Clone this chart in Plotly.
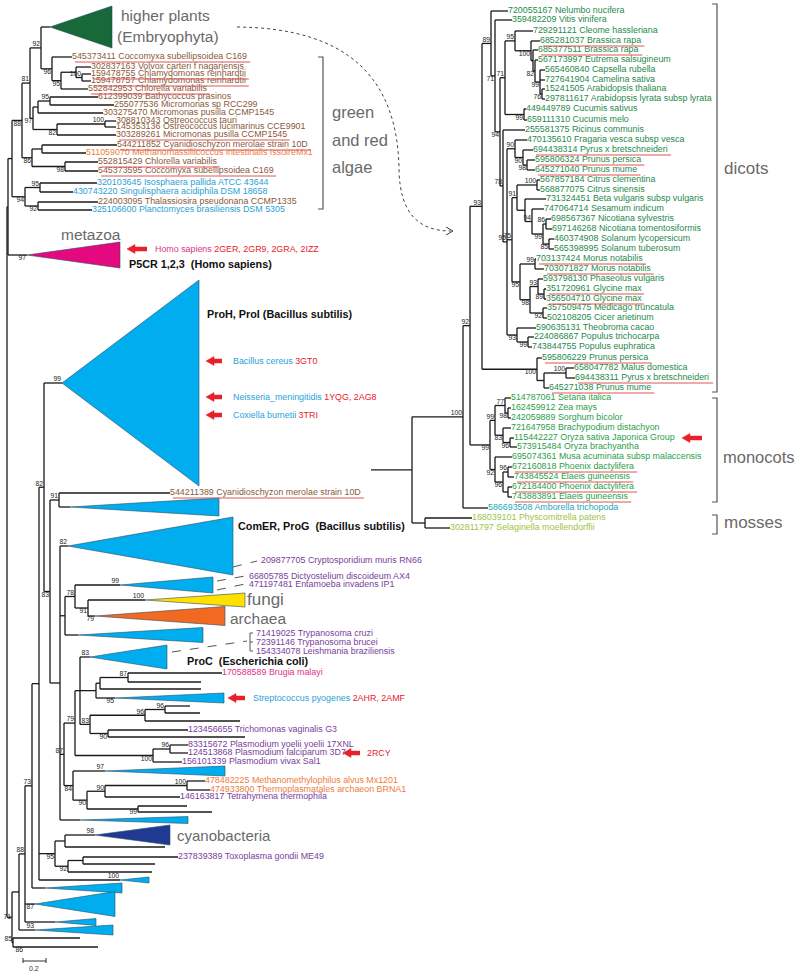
import plotly.graph_objects as go

# ---------------- colours ----------------
BROWN = "#8a5a3a"; PURPLE = "#7a3e9d"; ORANGE = "#ee7b3b"; BLUE = "#2a9fd6"
PINK = "#e0338a"; RED = "#e8202a"
DG = "#1f8a4c"; MG = "#2ba04a"; TEAL = "#25a8b8"; LG = "#9cc545"
C_CYAN = "#00aeef"; C_PLANT = "#17693a"; C_META = "#e5097f"
C_FUNGI = "#ffe100"; C_ARCH = "#f26a21"; C_CYANO = "#203a94"
LINE = "#1a1a1a"; GRAY = "#6a6a6a"
FONT = "Liberation Sans, Arial, sans-serif"


# ---------------- tree data ----------------
def N(x, ch, lab=None, pos="a"):
    return dict(k="n", x=x, ch=ch, lab=lab, pos=pos)


def L(y, xe, name="", col=None, ul=False, lab=None, pos="a"):
    return dict(k="l", y=y, xe=xe, name=name, col=col, ul=ul, lab=lab, pos=pos)


def T(y, xa, xr, hh, col, lab=None, pos="a"):
    return dict(k="t", y=y, xa=xa, xr=xr, hh=hh, col=col, lab=lab, pos=pos)


LEFT_TREE = N(7, [
    N(8, [
        N(12, [
            N(22, [
                N(30, [
                    N(41, [
                        T(27, 50, 112, 21, C_PLANT),
                        N(52, [
                            L(57, 72, "545373411 Coccomyxa subellipsoidea C169", BROWN, True),
                            N(61, [
                                N(76, [
                                    L(67, 91, "302837163 Volvox carteri f nagariensis", BROWN),
                                    N(82, [L(74, 91, "159478755 Chlamydomonas reinhardtii", BROWN, True),
                                           L(81, 91, "159478757 Chlamydomonas reinhardtii", BROWN, True)], "100", "a"),
                                ]),
                                L(89, 88, "552842953 Chlorella variabilis", BROWN, True),
                            ], "95", "b"),
                        ], "96", "b"),
                    ], "92", "a"),
                    N(33, [
                        N(38, [
                            N(50, [L(97, 98, "612399039 Bathycoccus prasinos", BROWN),
                                   L(105, 114, "255077536 Micromonas sp RCC299", BROWN)], "95", "a"),
                            L(113, 103, "303275470 Micromonas pusilla CCMP1545", BROWN),
                        ]),
                        N(57, [
                            N(105, [L(121, 116, "308810343 Ostreococcus tauri", BROWN),
                                    L(127, 116, "145353136 Ostreococcus lucimarinus CCE9901", BROWN)], "100", "a"),
                            L(135, 116, "303289261 Micromonas pusilla CCMP1545", BROWN, True),
                        ], "82", "b"),
                    ], "97", "b"),
                ], "81", "a"),
                N(32, [
                    N(42, [L(145, 117, "544211852 Cyanidioschyzon merolae strain 10D", BROWN, True),
                           L(153, 86, "511059070 Methanomassiliicoccus intestinalis IssoireMx1", ORANGE)]),
                    N(65, [L(162, 98, "552815429 Chlorella variabilis", BROWN, True),
                           L(171, 98, "545373595 Coccomyxa subellipsoidea C169", BROWN, True)], "98", "b"),
                ], "86", "b"),
            ], "88", "b"),
            N(25, [
                N(40, [L(183, 97, "320103645 Isosphaera pallida ATCC 43644", BLUE),
                       L(192, 73, "430743220 Singulisphaera acidiphila DSM 18658", BLUE)], "95", "a"),
                N(38, [L(202, 98, "224003095 Thalassiosira pseudonana CCMP1335", BROWN),
                       L(210, 92, "325106600 Planctomyces brasiliensis DSM 5305", BLUE)], "92", "b"),
            ], "94", "b"),
        ]),
        T(255, 27, 120, 13, C_META, "97", "b"),
    ]),
    N(12, [
        N(19, [
            N(25, [
                N(32, [
                    N(39, [
                        N(44, [
                            T(383, 62, 199, 103, C_CYAN, "99", "a"),
                            N(50, [
                                N(59, [L(493, 170, "544211389 Cyanidioschyzon merolae strain 10D", BROWN, True),
                                       T(507, 70, 219, 9, C_CYAN)], "91", "a"),
                                N(60, [
                                    T(546, 68, 233, 29, C_CYAN, "82", "a"),
                                    N(65, [
                                        N(75, [
                                            T(585, 120, 213, 8, C_CYAN, "99", "a"),
                                            N(88, [T(600, 145, 245, 7, C_FUNGI, "100", "a"),
                                                   T(616, 95, 225, 9.5, C_ARCH, "79", "b")], "91", "b"),
                                        ], "78", "a"),
                                        T(635, 78, 203, 7.5, C_CYAN),
                                    ]),
                                    N(64, [
                                        N(75, [
                                            N(80, [
                                                T(657, 90, 167, 12, C_CYAN, "83", "a"),
                                                N(96, [
                                                    N(100, [
                                                        N(128, [L(673, 222, "170588589 Brugia malayi", PINK),
                                                                L(682, 201)], "87", "a"),
                                                        L(689, 201),
                                                    ]),
                                                    T(698, 115, 224, 5, C_CYAN, "95", "b"),
                                                ]),
                                                N(90, [
                                                    N(145, [N(165, [L(706, 190), L(713, 200)], "96", "a"),
                                                            L(721, 240)], "96", "a"),
                                                    N(108, [L(730, 188, "123456655 Trichomonas vaginalis G3", PURPLE),
                                                            L(737, 245)], "90", "b"),
                                                ], "83", "a"),
                                            ]),
                                            N(153, [
                                                N(170, [L(745, 188, "83315672 Plasmodium yoelii yoelii 17XNL", PURPLE),
                                                        L(753, 188, "124513868 Plasmodium falciparum 3D7", PURPLE)], "96", "a"),
                                                L(762, 182, "156101339 Plasmodium vivax Sal1", PURPLE),
                                            ], "100", "b"),
                                        ], "79", "a"),
                                        N(73, [
                                            T(771, 105, 225, 5, C_CYAN, "97", "a"),
                                            N(87, [
                                                N(105, [N(187, [L(781, 205, "478482225 Methanomethylophilus alvus Mx1201", ORANGE),
                                                                L(790, 210, "474933800 Thermoplasmatales archaeon BRNA1", ORANGE)], "100", "a"),
                                                        L(797, 180, "146163817 Tetrahymena thermophila", PURPLE)], "90", "a"),
                                                N(138, [L(806, 187), L(812, 212)], "99", "b"),
                                            ], "90", "b"),
                                        ], "84", "b"),
                                    ], "87", "a"),
                                    T(820, 80, 188, 3.5, C_CYAN),
                                ]),
                            ], "83", "b"),
                        ], "82", "a"),
                        N(55, [
                            N(65, [T(835, 95, 170, 10, C_CYANO, "98", "a"), L(847, 165)]),
                            N(68, [N(83, [L(857, 178, "237839389 Toxoplasma gondii ME49", PURPLE), L(864, 155)]),
                                   L(872, 152)], "92", "b"),
                        ], "95", "b"),
                        T(880, 120, 149, 3, C_CYAN, "100", "a"),
                    ]),
                    T(888, 45, 122, 5, C_CYAN),
                ], "73", "a"),
                T(904, 35, 115, 12.5, C_CYAN, "87", "b"),
                T(922, 55, 96, 3.5, C_CYAN),
            ], "88", "a"),
            T(930, 35, 113, 5, C_CYAN, "93", "a"),
        ]),
        N(13, [L(938, 80), L(947, 98, lab="86", pos="b")], "85", "a"),
    ], "71", "l"),
])

RIGHT_TREE = N(412, [
    N(463, [
        N(470, [
            N(482, [
                N(491, [
                    L(11, 508, "720055167 Nelumbo nucifera", DG),
                    N(495, [
                        L(20, 512, "359482209 Vitis vinifera", DG),
                        N(500, [
                            N(505, [
                                N(515, [
                                    L(31, 533, "729291121 Cleome hassleriana", DG),
                                    N(531, [
                                        L(41, 540, "685281037 Brassica rapa", DG, True),
                                        N(533, [
                                            L(50, 538, "685377511 Brassica rapa", DG, True),
                                            N(535, [
                                                L(60, 538, "567173997 Eutrema salsugineum", DG),
                                                N(540, [L(70, 545, "565460840 Capsella rubella", DG),
                                                        L(80, 545, "727641904 Camelina sativa", DG),
                                                        N(542, [L(89, 545, "15241505 Arabidopsis thaliana", DG),
                                                                L(99, 545, "297811617 Arabidopsis lyrata subsp lyrata", DG)], "76", "b")],
                                                  "99", "b"),
                                            ], "82", "b"),
                                        ]),
                                    ], "100", "b"),
                                ], "95", "a"),
                                N(524, [L(109, 526, "449449789 Cucumis sativus", DG),
                                        L(120, 527, "659111310 Cucumis melo", DG)], "99", "b"),
                            ], "71", "a"),
                            N(503, [
                                L(130, 525, "255581375 Ricinus communis", DG),
                                N(507, [
                                    N(515, [L(140, 527, "470135610 Fragaria vesca subsp vesca", DG),
                                            N(523, [L(150, 533, "694438314 Pyrus x bretschneideri", DG, True),
                                                    N(527, [L(160, 535, "595806324 Prunus persica", DG, True),
                                                            L(170, 535, "645271040 Prunus mume", DG, True)], "98", "b")],
                                              "90", "b")], "90", "a"),
                                    N(512, [
                                        N(517, [
                                            N(537, [L(180, 540, "567857184 Citrus clementina", DG),
                                                    L(190, 540, "568877075 Citrus sinensis", DG)], "100", "a"),
                                            N(525, [L(199, 546, "731324451 Beta vulgaris subsp vulgaris", DG),
                                                    N(532, [L(209, 544, "747064714 Sesamum indicum", DG),
                                                            N(543, [N(546, [L(219, 551, "698567367 Nicotiana sylvestris", DG),
                                                                            L(229, 552, "697146268 Nicotiana tomentosiformis", DG)], "86", "a"),
                                                                    N(549, [L(239, 554, "460374908 Solanum lycopersicum", DG),
                                                                            L(249, 554, "565398995 Solanum tuberosum", DG)], "85", "b")],
                                                              "99", "b")], "94", "a")]),
                                        ], "91", "a"),
                                        N(520, [
                                            N(535, [L(259, 536, "703137424 Morus notabilis", DG, True),
                                                    L(269, 544, "703071827 Morus notabilis", DG, True)], "99", "a"),
                                            N(530, [N(538, [L(279, 543, "593798130 Phaseolus vulgaris", DG),
                                                            N(544, [L(289, 546, "351720961 Glycine max", DG, True),
                                                                    L(299, 546, "356504710 Glycine max", DG, True)], "89", "b")],
                                                      "93", "a"),
                                                    N(543, [L(308, 547, "357509475 Medicago truncatula", DG),
                                                            L(318, 547, "502108205 Cicer arietinum", DG)], "92", "b")],
                                              "98", "b"),
                                        ], "95", "b"),
                                    ], "75", "a"),
                                    N(517, [L(328, 536, "590635131 Theobroma cacao", DG),
                                            N(528, [L(337, 534, "224086867 Populus trichocarpa", DG),
                                                    L(347, 532, "743844755 Populus euphratica", DG)], "99", "b")], "93", "b"),
                                ], "95", "a"),
                            ], "78", "a"),
                        ], "94", "b"),
                    ], "71", "b"),
                ], "89", "a"),
                N(537, [L(358, 542, "595806229 Prunus persica", DG, True),
                        N(544, [N(566, [L(368, 574, "658047782 Malus domestica", DG),
                                        L(378, 575, "694438311 Pyrus x bretschneideri", DG, True)], "100", "a"),
                                L(388, 549, "645271038 Prunus mume", DG, True)])], "100", "b"),
            ], "93", "a"),
            N(490, [
                N(495, [N(505, [L(398, 511, "514787061 Setaria italica", MG),
                                N(508, [L(408, 511, "162459912 Zea mays", MG),
                                        L(418, 511, "242059889 Sorghum bicolor", MG)], "98", "b")], "77", "a"),
                        N(503, [L(428, 511, "721647958 Brachypodium distachyon", MG),
                                N(510, [L(438, 514, "115442227 Oryza sativa Japonica Group", MG),
                                        L(447, 517, "573915484 Oryza brachyantha", MG)], "96", "b")], "83", "b")], "99", "a"),
                N(495, [L(457, 512, "695074361 Musa acuminata subsp malaccensis", MG),
                        N(503, [N(508, [L(467, 512, "672160818 Phoenix dactylifera", MG, True),
                                        L(477, 514, "743845524 Elaeis guineensis", MG, True)], "96", "a"),
                                N(508, [L(487, 512, "672184400 Phoenix dactylifera", MG, True),
                                        L(497, 512, "743883891 Elaeis guineensis", MG, True)])], "96", "b")], "92", "b"),
            ], "99", "b"),
        ], "92", "a"),
        L(508, 488, "586693508 Amborella trichopoda", TEAL),
    ], "100", "a"),
    N(425, [L(518, 472, "168039101 Physcomitrella patens", LG),
            L(528, 450, "302811797 Selaginella moellendorffii", LG)]),
])
RIGHT_STUB_X = 371

# group labels: (text, x, y, size)
GROUP_LABELS = [
    ("higher plants", 119, 15, 15.5), ("(Embryophyta)", 115, 36, 15.5),
    ("metazoa", 59, 234, 15.5), ("fungi", 245, 599, 17), ("archaea", 228, 618, 15.5),
    ("cyanobacteria", 175, 835, 15),
    ("green", 330, 112, 16.5), ("and red", 330, 140, 16.5), ("algae", 330, 167, 16.5),
    ("dicots", 722, 168, 17), ("monocots", 721, 457, 16.5), ("mosses", 722, 522, 17),
]
BOLD_LABELS = [
    ("P5CR 1,2,3  (Homo sapiens)", 127, 264), ("ProH, ProI (Bacillus subtilis)", 205, 314),
    ("ComER, ProG  (Bacillus subtilis)", 236, 526), ("ProC  (Escherichia coli)", 185, 661),
]
# (x, y, [(text, colour), ...])
REF_LABELS = [
    (153, 249, [("Homo sapiens ", PINK), ("2GER, 2GR9, 2GRA, 2IZZ", RED)]),
    (231, 361, [("Bacillus cereus ", BLUE), ("3GT0", RED)]),
    (231, 397, [("Neisseria_meningitidis ", BLUE), ("1YQG, 2AG8", RED)]),
    (231, 415, [("Coxiella burnetii ", BLUE), ("3TRI", RED)]),
    (251, 698, [("Streptococcus pyogenes ", BLUE), ("2AHR, 2AMF", RED)]),
    (365, 753, [("2RCY", RED)]),
    (259, 560, [("209877705 Cryptosporidium muris RN66", PURPLE)]),
    (247, 576, [("66805785 Dictyostelium discoideum AX4", PURPLE)]),
    (247, 584, [("471197481 Entamoeba invadens IP1", PURPLE)]),
    (254, 633, [("71419025 Trypanosoma cruzi", PURPLE)]),
    (254, 642, [("72391146 Trypanosoma brucei", PURPLE)]),
    (254, 651, [("154334078 Leishmania braziliensis", PURPLE)]),
]
# red arrows: (head x, tail x, y)
RED_ARROWS = [(127, 147, 249), (206, 222, 361), (206, 222, 397), (206, 222, 415),
              (228, 245, 698), (343, 360, 753), (682, 702, 438)]
# brackets: (x, y0, y1)
BRACKETS = [(323, 57, 209), (717, 4, 392), (717, 398, 502), (717, 515, 534)]
# dashed connectors
DASHES = [((233, 567), (257, 561)), ((217, 581), (245, 576)), ((217, 590), (245, 584)),
          ((172, 652), (247, 641))]

TIP_SIZE = 8.9
BOOT_SIZE = 6.8
BOLD_SIZE = 10.8

# ---------------- layout computation ----------------
seg_x, seg_y = [], []
tri_shapes = []
boots = {"a": ([], [], []), "b": ([], [], []), "l": ([], [], [])}
tips = {}
unders = []

WID = {}
for ch in "ijl": WID[ch] = 0.222
for ch in "ft": WID[ch] = 0.278
WID["r"] = 0.333; WID[" "] = 0.278; WID["I"] = 0.278; WID["m"] = 0.833; WID["w"] = 0.722
WID["M"] = 0.833; WID["W"] = 0.944
for ch in "kvxyzsc": WID[ch] = 0.5
for ch in ".,": WID[ch] = 0.278


def text_w(s, size):
    tot = 0
    for ch in s:
        if ch in WID:
            tot += WID[ch]
        elif ch.isupper():
            tot += 0.667
        else:
            tot += 0.556
    return tot * size


def seg(x0, y0, x1, y1):
    seg_x.extend([x0, x1, None]); seg_y.extend([y0, y1, None])


def place(nd, px):
    k = nd["k"]
    if k == "l":
        y = nd["y"]
        seg(px, y, nd["xe"], y)
        if nd["name"]:
            t = tips.setdefault(nd["col"], ([], [], []))
            t[0].append(nd["xe"]); t[1].append(y); t[2].append(nd["name"])
            if nd["ul"]:
                x0 = nd["xe"] + 3
                unders.append((x0, x0 + text_w(nd["name"], TIP_SIZE), y + 5))
        if nd["lab"]:
            b = boots[nd["pos"]]
            b[0].append(px + 10); b[1].append(y); b[2].append(nd["lab"])
        return y
    if k == "t":
        y = nd["y"]
        seg(px, y, nd["xa"], y)
        tri_shapes.append(([nd["xa"], nd["xr"], nd["xr"], nd["xa"]],
                           [y, y - nd["hh"], y + nd["hh"], y], nd["col"]))
        if nd["lab"]:
            b = boots[nd["pos"]]
            b[0].append(nd["xa"] - 1); b[1].append(y); b[2].append(nd["lab"])
        return y
    ys = [place(c, nd["x"]) for c in nd["ch"]]
    seg(nd["x"], min(ys), nd["x"], max(ys))
    y = (ys[0] + ys[-1]) / 2
    if px is not None:
        seg(px, y, nd["x"], y)
    if nd["lab"]:
        b = boots[nd["pos"]]
        b[0].append(nd["x"] - 1); b[1].append(y); b[2].append(nd["lab"])
    return y


place(LEFT_TREE, None)
place(RIGHT_TREE, RIGHT_STUB_X)

# ---------------- figure ----------------
fig = go.Figure()

for xs, ys, col in tri_shapes:
    fig.add_trace(go.Scatter(x=xs, y=ys, mode="lines", fill="toself", fillcolor=col,
                             line=dict(color="#2c4a60", width=0.6), hoverinfo="skip"))

fig.add_trace(go.Scatter(x=seg_x, y=seg_y, mode="lines", line=dict(color=LINE, width=1.3),
                         hoverinfo="skip"))

for col, (xs, ys, tx) in tips.items():
    fig.add_trace(go.Scatter(x=xs, y=ys, text=tx, mode="text", textposition="middle right",
                             textfont=dict(family=FONT, size=TIP_SIZE, color=col), hoverinfo="skip"))

posmap = {"a": "top left", "b": "bottom left", "l": "middle left"}
for p, (xs, ys, tx) in boots.items():
    if xs:
        fig.add_trace(go.Scatter(x=xs, y=ys, text=tx, mode="text", textposition=posmap[p],
                                 textfont=dict(family=FONT, size=BOOT_SIZE, color="#222222"),
                                 hoverinfo="skip"))

shapes = []
for x0, x1, y in unders:
    shapes.append(dict(type="line", xref="x", yref="y", x0=x0, x1=x1, y0=y, y1=y,
                       line=dict(color="#e05555", width=1)))
for x, y0, y1 in BRACKETS:
    shapes.append(dict(type="path", xref="x", yref="y",
                       path=f"M {x-5},{y0} L {x},{y0} L {x},{y1} L {x-5},{y1}",
                       line=dict(color="#555555", width=1.2)))
for (x0, y0), (x1, y1) in DASHES:
    shapes.append(dict(type="line", xref="x", yref="y", x0=x0, y0=y0, x1=x1, y1=y1,
                       line=dict(color="#555555", width=1, dash="dash")))
shapes.append(dict(type="path", xref="x", yref="y",
                   path="M 253,633 L 250,633 L 250,651 L 253,651 M 250,642 L 253,642",
                   line=dict(color="#555555", width=1)))
shapes.append(dict(type="path", xref="x", yref="y",
                   path="M 237,27 C 350,28 398,80 399,170 C 400,215 420,231 451,231",
                   line=dict(color="#444444", width=1, dash="dot")))
shapes.append(dict(type="path", xref="x", yref="y", path="M 446,227 L 453,231 L 446,235",
                   line=dict(color="#444444", width=1)))
shapes.append(dict(type="path", xref="x", yref="y",
                   path="M 23,958 L 23,963 M 23,961 L 46,961 M 46,958 L 46,963",
                   line=dict(color="#333333", width=1)))
for hx, tx, y in RED_ARROWS:
    shapes.append(dict(type="line", xref="x", yref="y", x0=hx + 6, x1=tx, y0=y, y1=y,
                       line=dict(color=RED, width=4.5)))
    shapes.append(dict(type="path", xref="x", yref="y",
                       path=f"M {hx},{y} L {hx+8},{y-4.5} L {hx+8},{y+4.5} Z",
                       fillcolor=RED, line=dict(color=RED, width=0.5)))

ann = []
for t, x, y, s in GROUP_LABELS:
    ann.append(dict(x=x, y=y, text=t, showarrow=False, xanchor="left", yanchor="middle",
                    font=dict(family=FONT, size=s, color=GRAY)))
for t, x, y in BOLD_LABELS:
    ann.append(dict(x=x, y=y, text=f"<b>{t}</b>", showarrow=False, xanchor="left", yanchor="middle",
                    font=dict(family=FONT, size=BOLD_SIZE, color="#111111")))
for x, y, parts in REF_LABELS:
    txt = "".join(f"<span style='color:{c}'>{p}</span>" for p, c in parts)
    ann.append(dict(x=x, y=y, text=txt, showarrow=False, xanchor="left", yanchor="middle",
                    font=dict(family=FONT, size=TIP_SIZE, color=parts[0][1])))
ann.append(dict(x=34, y=968, text="0.2", showarrow=False, yanchor="middle",
                font=dict(family=FONT, size=7, color="#333")))

fig.update_layout(
    width=800, height=976, margin=dict(l=0, r=0, t=0, b=0),
    paper_bgcolor="white", plot_bgcolor="white", showlegend=False,
    xaxis=dict(range=[0, 800], visible=False, fixedrange=True),
    yaxis=dict(range=[976, 0], visible=False, fixedrange=True),
    shapes=shapes, annotations=ann,
)
fig.write_html("out.html", config={"displayModeBar": False, "staticPlot": True},
               post_script="document.body.style.margin='0px';document.body.style.overflow='hidden';")
